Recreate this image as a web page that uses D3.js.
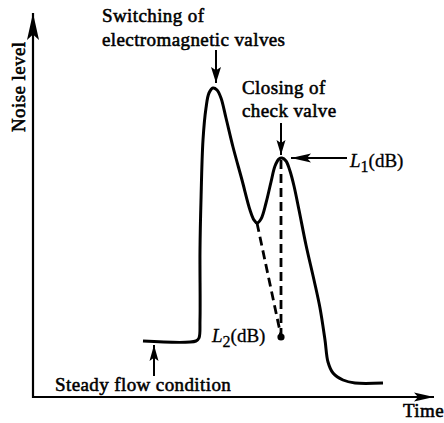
<!DOCTYPE html>
<html><head><meta charset="utf-8">
<script src="https://cdn.jsdelivr.net/npm/d3@7/dist/d3.min.js"></script>
<style>
html,body{margin:0;padding:0;background:#fff;}
text{font-family:"Liberation Serif","Times New Roman",serif;font-weight:normal;fill:#000;stroke:#000;stroke-width:0.55px;letter-spacing:0.4px;}
</style></head>
<body><svg id="c" width="444" height="423"></svg>
<script>
// Schematic noise-level curve (arbitrary units: time, noise level)
const time  = [110,163,166,167,167,168,170,173,176,180,184,188,193,200,209,217,221,224,228,233,238,242,246,249,253,257,261,266,273,281,287,292,295,300,310,322,350];
const noise = [56,56,59,77,147,197,257,289,304,309,307,299,279,250,217,187,177,174,178,194,215,231,238,239,236,226,211,187,152,117,89,57,35,24,17,14,14];
// Dashed extrapolations down to L2
const dashA_t = [224,248], dashA_n = [174,61];
const dashB_t = [248,248], dashB_n = [237,63];
const L2 = {t:248, n:61};
const labels = {
  y:"Noise level", x:"Time",
  sw1:"Switching of", sw2:"electromagnetic valves",
  cl1:"Closing of", cl2:"check valve",
  steady:"Steady flow condition"
};

const x=d3.scaleLinear().domain([0,409]).range([33,442]);
const y=d3.scaleLinear().domain([0,392]).range([397,5]);
const svg=d3.select("#c");

function arrowHead(tipX,tipY,dir,len,hw){
  let p;
  if(dir==="up") p=[[tipX,tipY],[tipX-hw,tipY+len],[tipX,tipY+len*0.8],[tipX+hw,tipY+len]];
  if(dir==="down") p=[[tipX,tipY],[tipX-hw,tipY-len],[tipX,tipY-len*0.8],[tipX+hw,tipY-len]];
  if(dir==="left") p=[[tipX,tipY],[tipX+len,tipY-hw],[tipX+len*0.8,tipY],[tipX+len,tipY+hw]];
  if(dir==="right") p=[[tipX,tipY],[tipX-len,tipY-hw],[tipX-len*0.8,tipY],[tipX-len,tipY+hw]];
  svg.append("path").attr("d","M"+p.map(q=>q.join(",")).join("L")+"Z").attr("fill","#000");
}
function arrow(x1,y1,x2,y2,dir,len,hw,sw){
  svg.append("line").attr("x1",x1).attr("y1",y1).attr("x2",x2).attr("y2",y2)
    .attr("stroke","#000").attr("stroke-width",sw||2);
  arrowHead(x2,y2,dir,len,hw);
}

// axes
arrow(x(0),y(0)+1,x(0),y(392)+8,"up",27,6,2.2);
arrow(x(0)-1,y(0),x(409)-8,y(0),"right",20,4.5,2.2);

// main curve
const pts=time.map((t,i)=>[x(t),y(noise[i])]);
svg.append("path").attr("d",d3.line().curve(d3.curveCatmullRom.alpha(0.5))(pts))
  .attr("fill","none").attr("stroke","#000").attr("stroke-width",3).attr("stroke-linejoin","round");

// dashed lines
[[dashA_t,dashA_n],[dashB_t,dashB_n]].forEach(([ts,ns])=>{
  svg.append("line").attr("x1",x(ts[0])).attr("y1",y(ns[0])).attr("x2",x(ts[1])).attr("y2",y(ns[1]))
    .attr("stroke","#000").attr("stroke-width",2.8).attr("stroke-dasharray","9,5");
});
svg.append("circle").attr("cx",x(L2.t)).attr("cy",y(L2.n)+1).attr("r",3.6).attr("fill","#000");

// annotation arrows
arrow(216,50,216,83,"down",16,5,2);
arrow(281,123,281,155,"down",15,4.5,2);
arrow(347,158,291,158,"left",20,4.5,2);
arrow(154,376,154,345,"up",16,4.5,2);

// texts
const fs=19;
function txt(s,tx,ty){
  return svg.append("text").attr("x",tx).attr("y",ty).attr("font-size",fs).text(s);
}
txt(labels.sw1,102,22);
txt(labels.sw2,102,46);
txt(labels.cl1,242,94);
txt(labels.cl2,242,117);
txt(labels.steady,55,391);
txt(labels.x,403,417);
svg.append("text").attr("transform","translate(25,132) rotate(-90)").attr("font-size",fs).text(labels.y);

// L1(dB), L2(dB)
function sub(tx,ty,n){
  const t=svg.append("text").attr("x",tx).attr("y",ty).attr("font-size",fs).style("stroke-width","0.3px").style("letter-spacing","0px");
  t.append("tspan").attr("font-style","italic").text("L");
  t.append("tspan").attr("dy",5).attr("font-size",16).text(n);
  t.append("tspan").attr("dy",-5).text("(dB)");
}
sub(350,167,"1");
sub(212,342,"2");
</script></body></html>
